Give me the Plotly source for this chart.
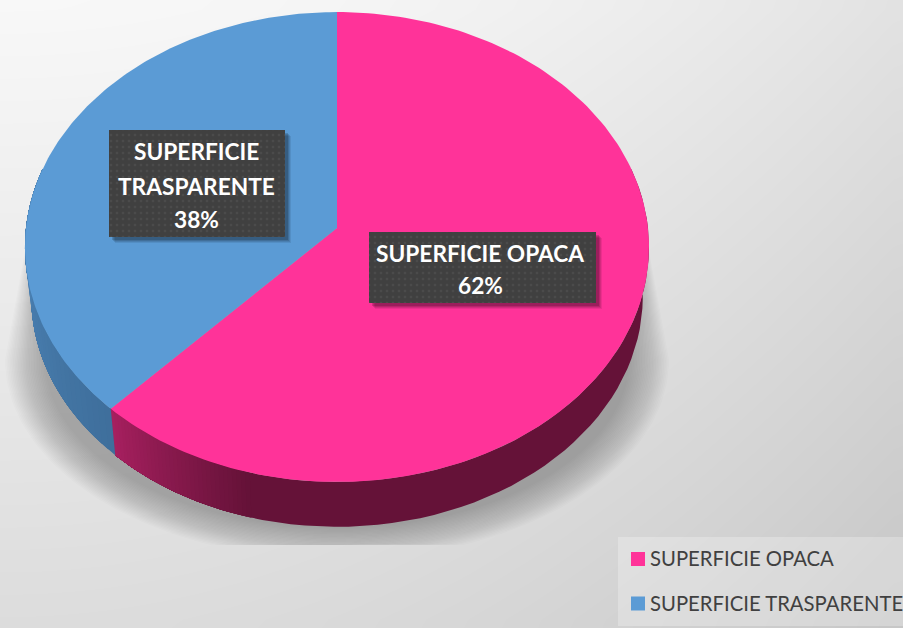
import numpy as np
import plotly.graph_objects as go

# Chart data
categories = ["SUPERFICIE OPACA", "SUPERFICIE TRASPARENTE"]
values = [62, 38]
top_colors = ["#FF3399", "#5B9BD5"]
label_lines = [["SUPERFICIE OPACA"], ["SUPERFICIE", "TRASPARENTE"]]

# Perspective model of the tilted disc, in pixel-like axis units
APEX_X, APEX_Y = 337.0, 228.0
PROJ_X, PROJ_Y, PROJ_K = 311.0, 233.4, 0.0809
WALL_DROP, WALL_SCALE = 50.0, 0.98
FONT = "Lato"


def rim(theta_deg, drop=0.0, scale=1.0):
    """Project angles (clockwise from 12 o'clock) onto the tilted disc rim."""
    t = np.radians(theta_deg)
    u, v = np.sin(t), -np.cos(t)
    d = 1 - PROJ_K * v
    return APEX_X + scale * PROJ_X * u / d, APEX_Y + drop + scale * PROJ_Y * v / d


def hex_mix(a, b, t):
    ca = [int(a[i:i + 2], 16) for i in (1, 3, 5)]
    cb = [int(b[i:i + 2], 16) for i in (1, 3, 5)]
    return "rgb(%d,%d,%d)" % tuple(round(p + (q - p) * t) for p, q in zip(ca, cb))


fig = go.Figure()


def poly(xs, ys, color):
    fig.add_trace(go.Scatter(x=list(xs), y=list(ys), mode="lines", fill="toself",
                             fillcolor=color, line=dict(width=0), hoverinfo="skip",
                             showlegend=False))


# Backdrop: pale upper left falling to mid grey at the lower right
gx = np.linspace(-20, 923, 32)
gy = np.linspace(-20, 648, 24)
GX, GY = np.meshgrid(gx, gy)
backdrop = 248 - 22 * (np.clip(GX, 0, 903) / 903) ** 2 - 28 * np.clip(GY, 0, 628) / 628
fig.add_trace(go.Heatmap(x=gx, y=gy, z=backdrop, zmin=0, zmax=255,
                         colorscale=[[0, "rgb(0,0,0)"], [1, "rgb(255,255,255)"]],
                         zsmooth="best", showscale=False, hoverinfo="skip"))

# Cast shadow: flanks run out from behind the disc, rounded below, cut by a flat lower edge
SHADOW_Y = 360
ang = np.linspace(-90, 90, 121)
for half_w, half_h in zip(np.linspace(332, 292, 26), np.linspace(200, 168, 26)):
    ex = 337 + half_w * np.sin(np.radians(ang))
    ey = SHADOW_Y + half_h * np.cos(np.radians(ang))
    sx = np.r_[36, ex, 638]
    sy = np.r_[190, np.minimum(ey, 545), 190]
    poly(sx, sy, "rgba(60,60,60,0.016)")

# Side wall: nested strips so that neighbouring shades never leave a seam
shares = np.array(values) / sum(values) * 360
split = shares[0]
wall_specs = [
    (75, split, "#651238", "#A82060", 195),
    (split, 285, "#3F6F9C", "#5088BC", split),
]
for lo, hi, dark, light, ramp_from in wall_specs:
    starts = np.r_[lo, np.linspace(ramp_from, hi, 36)[:-1]] if ramp_from > lo else np.linspace(lo, hi, 36)[:-1]
    for a in starts:
        seg = np.linspace(a, hi, 60)
        x1, y1 = rim(seg)
        x2, y2 = rim(seg[::-1], WALL_DROP, WALL_SCALE)
        t = np.clip((a - ramp_from) / (hi - ramp_from), 0, 1)
        poly(np.r_[x1, x2], np.r_[y1, y2], hex_mix(dark, light, t))

# Top faces of the two slices
start = 0.0
for share, color in zip(shares, top_colors):
    arc = np.linspace(start, start + share, 181)
    ax, ay = rim(arc)
    poly(np.r_[APEX_X, ax], np.r_[APEX_Y, ay], color)
    start += share

# Data label boxes with a drop shadow and a fine dotted fill
boxes = [(369, 596, 232, 303), (109, 285, 130, 237)]
for x0, x1, y0, y1 in boxes:
    for off, alpha in ((6, 0.08), (5, 0.10), (4, 0.12), (3, 0.16)):
        poly([x0 + off, x1 + off, x1 + off, x0 + off], [y0 + off, y0 + off, y1 + off, y1 + off],
             "rgba(0,0,0,%.2f)" % alpha)
    fig.add_trace(go.Scatter(x=[x0, x1, x1, x0, x0], y=[y0, y0, y1, y1, y0], mode="lines",
                             fill="toself", line=dict(width=0), hoverinfo="skip", showlegend=False,
                             fillpattern=dict(shape=".", size=6, solidity=0.15,
                                              fgcolor="#555555", bgcolor="#404040")))

annotations = []
line_ys = [[253, 285], [151, 186, 219]]
label_xs = [480, 196]
for lines, share, cx, ys in zip(label_lines, values, label_xs, line_ys):
    for text, y in zip(lines + ["%d%%" % share], ys):
        annotations.append(dict(x=cx, y=y, text="<b>%s</b>" % text, showarrow=False,
                                xref="x", yref="y", xanchor="center", yanchor="middle",
                                font=dict(family=FONT, size=22.7, color="#FFFFFF")))

# Legend panel with square swatches
poly([618, 903, 903, 618], [537, 537, 626, 626], "rgba(255,255,255,0.26)")
fig.add_trace(go.Scatter(x=[638, 638], y=[559, 603.5], mode="markers", hoverinfo="skip", showlegend=False,
                         marker=dict(symbol="square", size=14, color=top_colors)))
for name, y in zip(categories, [557.5, 603]):
    annotations.append(dict(x=648, y=y, text=name, showarrow=False, xref="x", yref="y",
                            xanchor="left", yanchor="middle",
                            font=dict(family=FONT, size=20.3, color="#404040")))

fig.update_layout(width=903, height=628, margin=dict(l=0, r=0, t=0, b=0),
                  paper_bgcolor="#E6E6E6", plot_bgcolor="#E6E6E6", showlegend=False,
                  annotations=annotations,
                  xaxis=dict(range=[0, 903], visible=False, fixedrange=True),
                  yaxis=dict(range=[628, 0], visible=False, fixedrange=True))
fig.write_html("out.html", config=dict(displayModeBar=False))
